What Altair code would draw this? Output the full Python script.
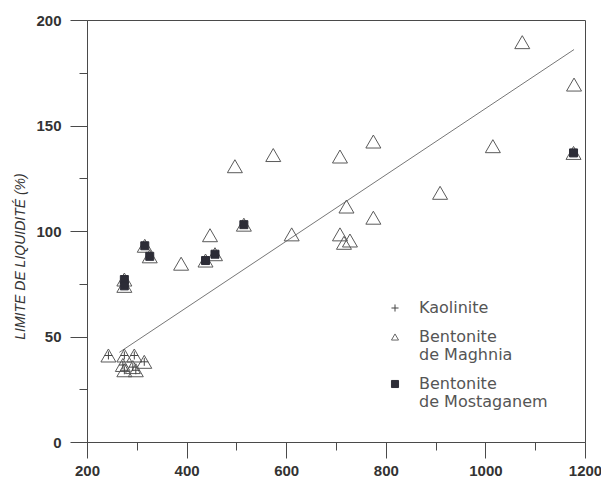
import altair as alt
import pandas as pd

# ---- data ----
series_names = ["Kaolinite", "Bentonite|de Maghnia", "Bentonite|de Mostaganem"]

kaol_x = [243, 275, 295, 315, 272, 292, 275, 298]
kaol_y = [41, 41, 41, 38, 36.5, 35.5, 34, 34]

magh_x = [389, 447, 497, 574, 611, 708, 708, 716, 728, 721, 775, 775, 909, 1015, 1074, 1178]
magh_y = [84.5, 98, 130.7, 136, 98.4, 135.3, 98.4, 94.4, 95.5, 111.6, 142.4, 106.3, 118.1, 140.2, 189.5, 169.4]

most_x = [275, 275, 316, 326, 438, 457, 515, 1177]
most_y = [77, 74, 93, 88, 86, 89, 103, 137]

line_x = [265, 1178]
line_y = [42.5, 186]

x_ticks = [200, 300, 400, 500, 600, 700, 800, 900, 1000, 1100, 1200]
y_ticks = [0, 25, 50, 75, 100, 125, 150, 175, 200]

pts = pd.DataFrame({
    "x": kaol_x + magh_x + most_x,
    "y": kaol_y + magh_y + most_y,
    "series": [series_names[0]] * len(kaol_x)
    + [series_names[1]] * len(magh_x)
    + [series_names[2]] * len(most_x),
})
line_df = pd.DataFrame({"x": line_x, "y": line_y})

axis_col = "#4a4a4a"
xscale = alt.Scale(domain=[200, 1200], nice=False, zero=False)
yscale = alt.Scale(domain=[0, 200], nice=False)

xaxis = alt.Axis(
    values=x_ticks, title=None, grid=False, format="d",
    labelExpr="datum.value % 200 == 0 ? datum.label : ''",
    tickSize={"condition": {"test": "datum.value % 200 != 0", "value": 8}, "value": 16},
    labelPadding=5, labelFont="Liberation Sans", labelFontSize=15,
    labelFontWeight="bold", labelColor="#333",
    domainColor=axis_col, tickColor=axis_col, labelFlush=False,
)
yaxis = alt.Axis(
    values=y_ticks, grid=False, format="d",
    title="LIMITE DE LIQUIDITÉ (%)",
    labelExpr="datum.value % 50 == 0 ? datum.label : ''",
    tickSize={"condition": {"test": "datum.value % 50 != 0", "value": 8}, "value": 17},
    labelPadding=9, labelFont="Liberation Sans", labelFontSize=15,
    labelFontWeight="bold", labelColor="#333",
    domainColor=axis_col, tickColor=axis_col, labelFlush=False,
    titleFont="Liberation Sans", titleFontSize=14, titleFontStyle="italic",
    titleFontWeight="normal", titleColor="#333", titleAngle=-90,
    titleX=-67, titleY=236, titleAlign="center", titleBaseline="middle",
)

X = alt.X("x:Q", scale=xscale, axis=xaxis)
Y = alt.Y("y:Q", scale=yscale, axis=yaxis)

reg = alt.Chart(line_df).mark_line(color="#777", strokeWidth=1).encode(x="x:Q", y="y:Q")

tri = alt.Chart(pts).mark_point(
    shape="triangle-up", size=225, filled=False, color="#5a5a5a",
    strokeWidth=1, opacity=1,
).encode(x=X, y=Y)

cross_path = "M-1,0H1M0,-1V1"
leg = alt.Legend(
    title=None, orient="none", legendX=300, legendY=280,
    labelExpr="split(datum.label, '|')",
    labelFont="DejaVu Sans", labelFontSize=16, labelFontWeight="normal",
    labelColor="#555", labelBaseline="middle", labelOffset=16,
    symbolSize=50, symbolStrokeWidth=1, rowPadding=13, labelLimit=300,
)
over = alt.Chart(pts).transform_filter(
    alt.datum.series != series_names[1]
).mark_point(size=64, strokeWidth=1, opacity=1).encode(
    x=X, y=Y,
    shape=alt.Shape("series:N", scale=alt.Scale(domain=series_names,
                    range=[cross_path, "triangle-up", "square"]), legend=leg),
    fill=alt.Fill("series:N", scale=alt.Scale(domain=series_names,
                  range=["transparent", "transparent", "#2c2c36"]), legend=leg),
    stroke=alt.Stroke("series:N", scale=alt.Scale(domain=series_names,
                      range=["#444", "#666", "#2c2c36"]), legend=leg),
)

chart = alt.layer(reg, tri, over).properties(
    width=498, height=422,
    autosize=alt.AutoSizeParams(type="none"),
    padding={"left": 87, "top": 20, "right": 16, "bottom": 37},
    background="white",
).configure_view(stroke=axis_col, strokeWidth=1)

chart.save("out.html", embed_options={"renderer": "svg", "actions": False})
